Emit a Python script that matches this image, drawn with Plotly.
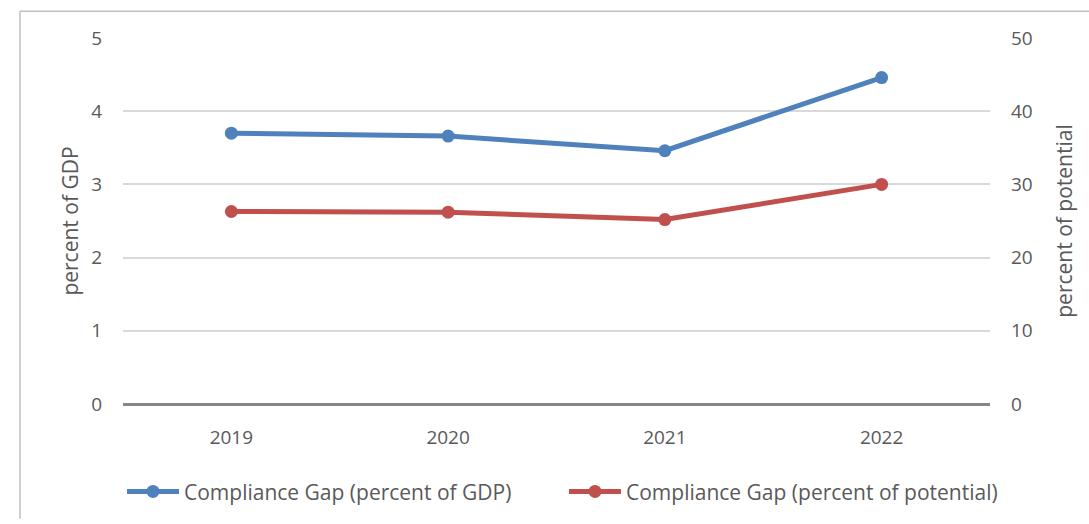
import plotly.graph_objects as go

years = ["2019", "2020", "2021", "2022"]
gap_pct_gdp = [3.70, 3.66, 3.46, 4.46]
gap_pct_potential = [26.3, 26.2, 25.2, 30.0]

left_ticks = [0, 1, 2, 3, 4, 5]
right_ticks = [0, 10, 20, 30, 40, 50]

BLUE = "#4f81bd"
RED = "#c0504d"
FONT = "Open Sans, Noto Sans, sans-serif"
TXT = "#595959"

fig = go.Figure()
fig.add_trace(go.Scatter(
    x=years, y=gap_pct_gdp, name="Compliance Gap (percent of GDP)",
    mode="lines+markers", line=dict(color=BLUE, width=5),
    marker=dict(color=BLUE, size=13), yaxis="y"))
fig.add_trace(go.Scatter(
    x=years, y=gap_pct_potential, name="Compliance Gap (percent of potential)",
    mode="lines+markers", line=dict(color=RED, width=5),
    marker=dict(color=RED, size=13), yaxis="y2"))

W, H = 1089, 524
L, R, T, B = 123, 99, 38, 116
pw, ph = W - L - R, H - T - B

def px(x):
    return (x - L) / pw

def py(y):
    return (H - B - y) / ph

fig.update_layout(
    width=W, height=H,
    margin=dict(l=L, r=R, t=T, b=B),
    paper_bgcolor="white", plot_bgcolor="white",
    font=dict(family=FONT, size=19, color=TXT),
    showlegend=True,
    legend=dict(orientation="h", x=px(122), y=py(476), xanchor="left", yanchor="top",
                font=dict(size=21, color=TXT), entrywidth=375, itemwidth=52,
                tracegroupgap=0),
    xaxis=dict(type="category", showgrid=False, zeroline=False,
               showline=False, ticks="", tickfont=dict(size=19, color=TXT),
               ticklabelstandoff=20, range=[-0.5, 3.5]),
    yaxis=dict(range=[0, 5], tickvals=left_ticks, showgrid=True, gridcolor="#d9d9d9",
               gridwidth=1.5, zeroline=True, zerolinecolor="#868686", zerolinewidth=2.5,
               showline=False, ticks="", ticklabelstandoff=20,
               tickfont=dict(size=19, color=TXT),
               title=dict(text="percent of GDP", font=dict(size=21, color=TXT), standoff=6)),
    yaxis2=dict(range=[0, 50], tickvals=right_ticks, overlaying="y", side="right",
                showgrid=False, zeroline=False, showline=False, ticks="",
                ticklabelstandoff=20, tickfont=dict(size=19, color=TXT),
                title=dict(text="percent of potential", font=dict(size=21, color=TXT), standoff=25)),
    shapes=[
        dict(type="line", xref="paper", yref="paper", x0=px(20), x1=px(20), y0=py(524), y1=py(11),
             line=dict(color="#bfbfbf", width=1.5)),
        dict(type="line", xref="paper", yref="paper", x0=px(20), x1=px(1089), y0=py(11), y1=py(11),
             line=dict(color="#bfbfbf", width=1.5)),
    ],
)

fig.write_html("out.html", config={"displayModeBar": False},
               post_script="document.body.style.margin='0';document.body.style.padding='0';")
